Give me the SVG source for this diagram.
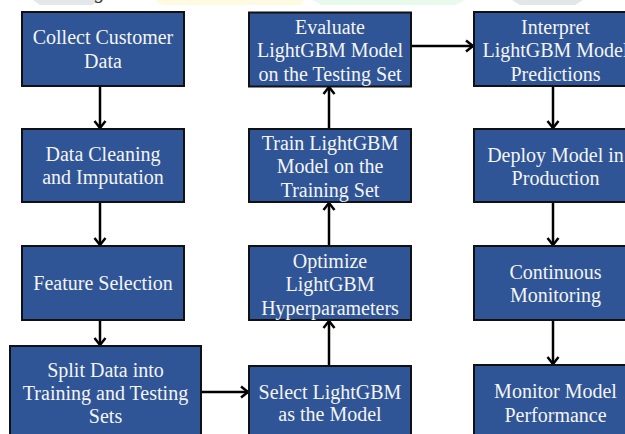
<svg xmlns="http://www.w3.org/2000/svg" width="625" height="434" viewBox="0 0 625 434">
  <style>
    .box { fill: #2F5597; stroke: #111; stroke-width: 2; }
    .lbl { font-family: 'Liberation Serif', Tinos, 'Noto Serif', 'DejaVu Serif', serif; font-size: 20px; fill: #F4F4F4; text-anchor: middle; }
    .edge { fill: none; stroke: #000; stroke-width: 2.5; marker-end: url(#head); }
    .mark { stroke: none; }
  </style>
  <defs>
    <marker id="head" markerUnits="userSpaceOnUse" markerWidth="14" markerHeight="14" refX="11" refY="7" orient="auto">
      <path d="M4,1.5 L11,7 L4,12.5" fill="none" stroke="#000" stroke-width="2.5"/>
    </marker>
  </defs>
  <rect width="625" height="434" fill="#fff"/>

  <!-- faint banner shapes along the top edge -->
  <g id="banner">
    <polygon class="mark" points="33,0 100,0 92,5 40,5" fill="#E3E7E9"/>
    <polygon class="mark" points="155,0 305,0 300,5 162,5" fill="#FFFBE3"/>
    <polygon class="mark" points="312,0 465,0 455,5 322,5" fill="#E8FAEC"/>
    <polygon class="mark" points="512,0 583,0 575,5 520,5" fill="#E1E6E8"/>
    <text x="100" y="-2" font-family="'Liberation Serif', serif" font-style="italic" font-size="20" fill="#333" text-anchor="middle">g</text>
  </g>

  <g id="connectors">
    <path class="edge" d="M100,86 V128"/>
    <path class="edge" d="M100,202 V245"/>
    <path class="edge" d="M100,320 V345"/>
    <path class="edge" d="M201,392 H248"/>
    <path class="edge" d="M329,366 V321"/>
    <path class="edge" d="M329,246 V203"/>
    <path class="edge" d="M329,129 V87"/>
    <path class="edge" d="M411,46 H473"/>
    <path class="edge" d="M553,86 V128"/>
    <path class="edge" d="M553,202 V245"/>
    <path class="edge" d="M553,320 V364"/>
  </g>

  <g id="collect">
    <rect class="box" x="22" y="12" width="162" height="74"/>
    <text class="lbl" x="103" y="44">Collect Customer</text>
    <text class="lbl" x="103" y="67.5">Data</text>
  </g>
  <g id="clean">
    <rect class="box" x="22" y="129" width="162" height="73"/>
    <text class="lbl" x="103" y="160.5">Data Cleaning</text>
    <text class="lbl" x="103" y="184">and Imputation</text>
  </g>
  <g id="feature">
    <rect class="box" x="22" y="246" width="162" height="74"/>
    <text class="lbl" x="103" y="289.5">Feature Selection</text>
  </g>
  <g id="split">
    <rect class="box" x="10" y="346" width="191" height="100"/>
    <text class="lbl" x="105.5" y="377">Split Data into</text>
    <text class="lbl" x="105.5" y="400">Training and Testing</text>
    <text class="lbl" x="105.5" y="423">Sets</text>
  </g>
  <g id="select">
    <rect class="box" x="249" y="366" width="162" height="80"/>
    <text class="lbl" x="330" y="398.5">Select LightGBM</text>
    <text class="lbl" x="330" y="421">as the Model</text>
  </g>
  <g id="optimize">
    <rect class="box" x="249" y="246" width="162" height="74"/>
    <text class="lbl" x="330" y="267.5">Optimize</text>
    <text class="lbl" x="330" y="291">LightGBM</text>
    <text class="lbl" x="330" y="314.5">Hyperparameters</text>
  </g>
  <g id="train">
    <rect class="box" x="249" y="129" width="162" height="73"/>
    <text class="lbl" x="330" y="149.5">Train LightGBM</text>
    <text class="lbl" x="330" y="173">Model on the</text>
    <text class="lbl" x="330" y="196.5">Training Set</text>
  </g>
  <g id="evaluate">
    <rect class="box" x="249" y="12.5" width="162" height="74"/>
    <text class="lbl" x="330" y="33.5">Evaluate</text>
    <text class="lbl" x="330" y="57">LightGBM Model</text>
    <text class="lbl" x="330" y="80.5">on the Testing Set</text>
  </g>
  <g id="interpret">
    <rect class="box" x="474" y="12" width="163" height="74"/>
    <text class="lbl" x="555.5" y="33.5">Interpret</text>
    <text class="lbl" x="555.5" y="57">LightGBM Model</text>
    <text class="lbl" x="555.5" y="80.5">Predictions</text>
  </g>
  <g id="deploy">
    <rect class="box" x="474" y="129" width="163" height="73"/>
    <text class="lbl" x="555.5" y="161.5">Deploy Model in</text>
    <text class="lbl" x="555.5" y="184.5">Production</text>
  </g>
  <g id="continuous">
    <rect class="box" x="474" y="246" width="163" height="74"/>
    <text class="lbl" x="555.5" y="278.5">Continuous</text>
    <text class="lbl" x="555.5" y="302">Monitoring</text>
  </g>
  <g id="monitor">
    <rect class="box" x="474" y="365" width="163" height="80"/>
    <text class="lbl" x="555.5" y="397.5">Monitor Model</text>
    <text class="lbl" x="555.5" y="421.5">Performance</text>
  </g>
</svg>
